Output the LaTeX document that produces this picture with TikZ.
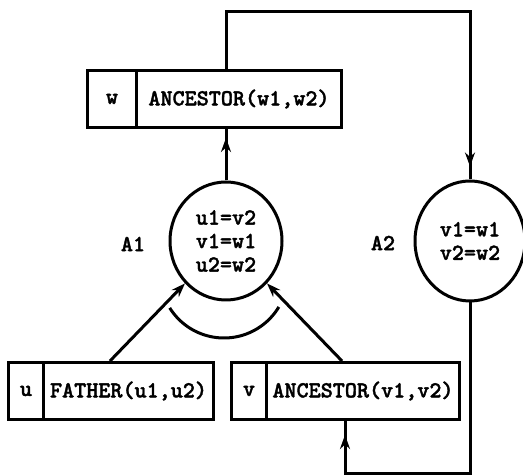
\documentclass[tikz,border=0pt]{standalone}
\usepackage{fontspec}
\newfontfamily\tw{lmmonolt10-bold.otf}[FakeBold=1.6]
\usetikzlibrary{shapes.geometric,arrows.meta,decorations.markings}
\tikzset{
  x=1pt, y=1pt,
  txt/.style={font=\tw\fontsize{23}{23.5}\selectfont},
  cell/.style={txt, draw, line width=3pt, minimum height=57pt, inner sep=0pt, anchor=west},
  rel/.style={txt, draw, ellipse, line width=3pt, inner sep=0pt, align=center},
  wire/.style={line width=3pt},
  tip/.style={-{Stealth[length=14pt,width=10pt]}},
  midtip/.style={postaction={decorate}, decoration={markings,
      mark=at position #1 with {\arrow{Stealth[length=14pt,width=10pt]}}}}
}
\begin{document}
\begin{tikzpicture}
\useasboundingbox (0,0) rectangle (523,476);

% record boxes
\node[cell, minimum width=49pt]  (wtag)  at (86,377)  {w};
\node[cell, minimum width=205pt] (wbody) at (135,377) {ANCESTOR(w1,w2)};
\node[cell, minimum width=35pt]  (utag)  at (7,85)    {u};
\node[cell, minimum width=170pt] (ubody) at (42,85)   {FATHER(u1,u2)};
\node[cell, minimum width=35pt]  (vtag)  at (230,85)  {v};
\node[cell, minimum width=193pt] (vbody) at (265,85)  {ANCESTOR(v1,v2)};

% rule nodes
\node[rel, minimum width=112pt, minimum height=118pt] (A1) at (226,235) {u1=v2\\v1=w1\\u2=w2};
\node[rel, minimum width=110pt, minimum height=120pt] (A2) at (470,235) {v1=w1\\v2=w2};
\node[txt] (l1) at (133,232) {A1};
\node[txt] (l2) at (383,233) {A2};

% connectors
\draw[wire, tip] ([xshift=68pt]ubody.north west) -- (A1);
\draw[wire, tip] ([xshift=77pt]vbody.north west) -- (A1);
\draw[wire, midtip=-9pt] (A1.north) -- (A1.north |- wbody.south);
\draw[wire, midtip=-13pt] (wbody.north -| A1.north) -- ++(0,57) -| (A2.north);
\draw[wire, midtip=-14pt] (A2.south) -- ++(0,-171) -| ([xshift=80pt]vbody.south west);

% conjunction arc
\draw[wire] (224,202) ++(212:64) arc[start angle=212, end angle=329, radius=64];
\end{tikzpicture}
\end{document}
